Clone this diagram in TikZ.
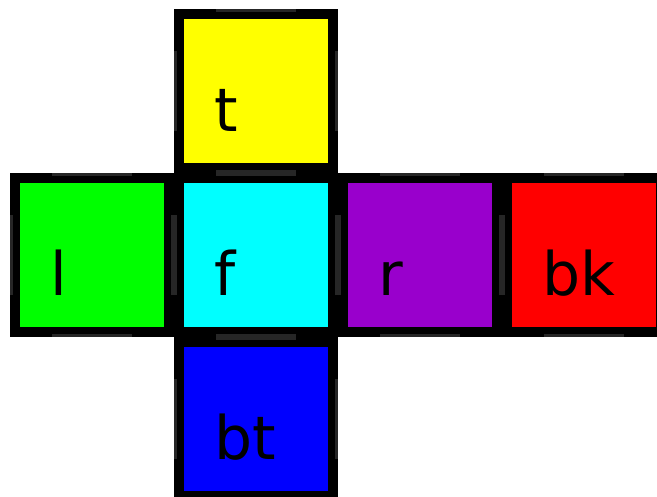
\documentclass[tikz,border=0pt]{standalone}
\usepackage{fontspec}
\setmainfont{DejaVu Sans}
\usetikzlibrary{positioning}
\usepackage{xcolor}
\definecolor{faceyellow}{RGB}{255, 255, 0}
\definecolor{facegreen}{RGB}{0, 255, 0}
\definecolor{facecyan}{RGB}{0, 255, 255}
\definecolor{facepurple}{RGB}{153, 0, 204}
\definecolor{facered}{RGB}{255, 0, 0}
\definecolor{faceblue}{RGB}{0, 0, 255}
\tikzstyle{face} = [rectangle, draw=black, line width=10pt, minimum size=154pt, inner sep=0pt]
\tikzstyle{facelabel} = [anchor=base west, inner sep=0pt, font=\fontsize{60pt}{72pt}\selectfont]
\tikzstyle{edgebar} = [line width=3pt, draw=black!85]

\begin{document}
\begin{tikzpicture}[node distance=0pt]
    \useasboundingbox (0,0) rectangle (657pt,497pt);

    % Faces of the net
    \node (f) [face, fill=facecyan] at (256pt,241.5pt) {};
    \node (t) [face, fill=faceyellow, above=of f] {};
    \node (bt) [face, fill=faceblue, below=of f] {};
    \node (l) [face, fill=facegreen, left=of f] {};
    \node (r) [face, fill=facepurple, right=of f] {};
    \node (bk) [face, fill=facered, right=of r] {};

    % Marks on the edges
    \foreach \n in {t,l,f,r,bk,bt} {
        \draw [edgebar] ([shift={(-40pt,-1.5pt)}]\n.north) -- ([shift={(40pt,-1.5pt)}]\n.north);
        \draw [edgebar] ([shift={(-40pt,1.5pt)}]\n.south) -- ([shift={(40pt,1.5pt)}]\n.south);
        \draw [edgebar] ([shift={(1.5pt,-40pt)}]\n.west) -- ([shift={(1.5pt,40pt)}]\n.west);
        \draw [edgebar] ([shift={(-1.5pt,-40pt)}]\n.east) -- ([shift={(-1.5pt,40pt)}]\n.east);
    }

    % Labels
    \node (tlabel) [facelabel] at ([shift={(40pt,-40pt)}]t.west) {t};
    \node (llabel) [facelabel] at ([shift={(40pt,-40pt)}]l.west) {l};
    \node (flabel) [facelabel] at ([shift={(40pt,-40pt)}]f.west) {f};
    \node (rlabel) [facelabel] at ([shift={(40pt,-40pt)}]r.west) {r};
    \node (bklabel) [facelabel] at ([shift={(40pt,-40pt)}]bk.west) {bk};
    \node (btlabel) [facelabel] at ([shift={(40pt,-40pt)}]bt.west) {bt};

\end{tikzpicture}
\end{document}
